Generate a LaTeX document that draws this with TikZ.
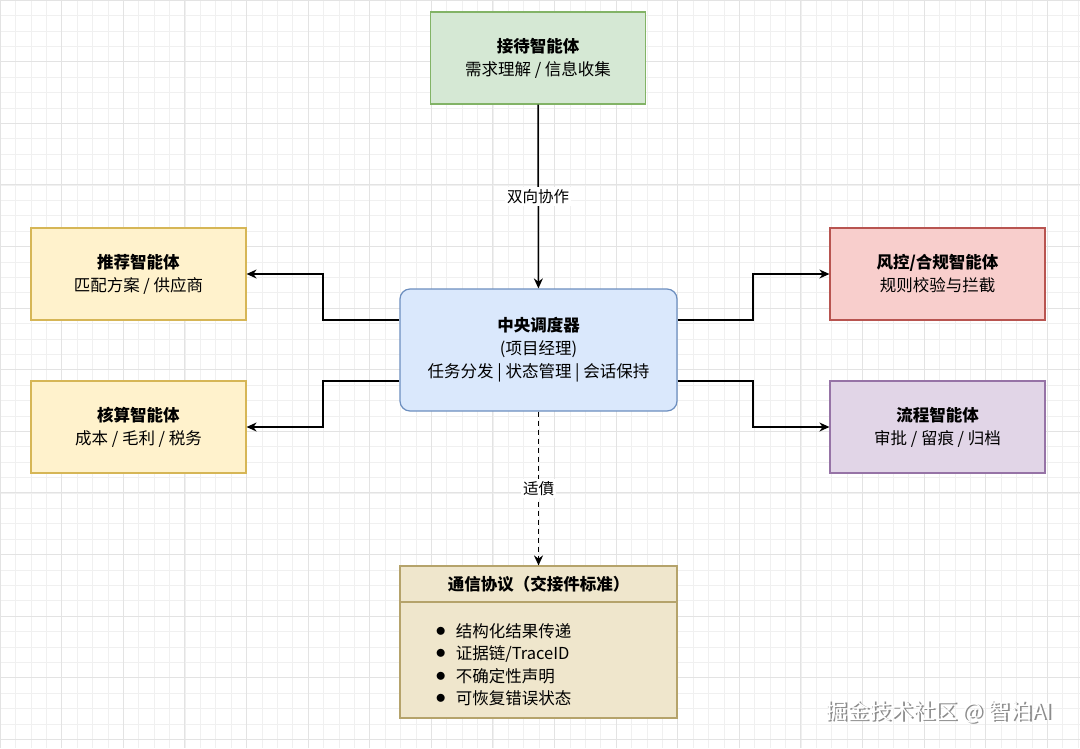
\documentclass[tikz,border=0pt]{standalone}
\usepackage{fontspec}
\setmainfont{Liberation Sans}
\newfontfamily\cjk{Noto Sans CJK SC}
\usetikzlibrary{arrows.meta,positioning}
\definecolor{gfill}{HTML}{D5E8D4}\definecolor{gline}{HTML}{82B366}
\definecolor{yfill}{HTML}{FFF2CC}\definecolor{yline}{HTML}{D6B656}
\definecolor{bfill}{HTML}{DAE8FC}\definecolor{bline}{HTML}{6C8EBF}
\definecolor{rfill}{HTML}{F8CECC}\definecolor{rline}{HTML}{B85450}
\definecolor{pfill}{HTML}{E1D5E7}\definecolor{pline}{HTML}{9673A6}
\definecolor{tfill}{HTML}{EFE6CC}\definecolor{tline}{HTML}{B5A36B}
\newcommand{\itembullet}{\raisebox{1pt}{\fontsize{22}{22}\selectfont$\bullet$}\hspace{10pt}}
\tikzset{
  agent/.style={draw, line width=1.2pt, minimum width=215pt, minimum height=92pt, align=center, font=\cjk\fontsize{16.5}{23}\selectfont},
  link/.style={-{Stealth[length=10pt,width=9pt]}, line width=1.5pt},
  lbl/.style={fill=white, inner sep=2pt, font=\cjk\fontsize{15.5}{18}\selectfont}
}
\begin{document}
\begin{tikzpicture}[x=1pt, y=-1pt]
  % Background
  \fill[white] (0,0) rectangle (1080,748);
  \useasboundingbox (0,0) rectangle (1080,748);
  \draw[gray!12, line width=0.6pt, step=15.4pt] (0,0) grid (1080,748);
  \draw[gray!22, line width=0.8pt, step=61.6pt] (0,0) grid (1080,748);

  % Agents
  \node[agent, fill=gfill, draw=gline] (recv) at (538,58) {\textbf{接待智能体}\\需求理解 / 信息收集};
  \node[agent, fill=yfill, draw=yline] (rec) at (138.5,274) {\textbf{推荐智能体}\\匹配方案 / 供应商};
  \node[agent, fill=yfill, draw=yline] (acc) at (138.5,427) {\textbf{核算智能体}\\成本 / 毛利 / 税务};
  \node[agent, fill=rfill, draw=rline] (risk) at (937.5,274) {\textbf{风控/合规智能体}\\规则校验与拦截};
  \node[agent, fill=pfill, draw=pline] (flow) at (937.5,427) {\textbf{流程智能体}\\审批 / 留痕 / 归档};
  \node[agent, fill=bfill, draw=bline, rounded corners=10pt, minimum width=277pt, minimum height=122pt] (hub) at (538.5,350) {\textbf{中央调度器}\\(项目经理)\\任务分发 | 状态管理 | 会话保持};

  % Protocol
  \node[draw=tline, fill=tfill, line width=1.2pt, minimum width=277pt, minimum height=152pt] (proto) at (538.5,642) {};
  \draw[tline, line width=1.2pt] (400,602) -- (677,602);
  \node[font=\cjk\fontsize{16.5}{20}\selectfont\bfseries] (ptitle) at (538.5,584) {通信协议（交接件标准）};
  \node[font=\cjk\fontsize{16.5}{22.5}\selectfont, align=left, anchor=north west] (plist) at (432,620)
    {\itembullet 结构化结果传递\\\itembullet 证据链/TraceID\\\itembullet 不确定性声明\\\itembullet 可恢复错误状态};

  % Connectors
  \draw[link] (recv) -- node[lbl] {双向协作} (hub);
  \draw[link] (hub.west |- 0,320) -| (323,274) -- (rec.east);
  \draw[link] (hub.west |- 0,381) -| (323,427) -- (acc.east);
  \draw[link] (hub.east |- 0,320) -| (753,274) -- (risk.west);
  \draw[link] (hub.east |- 0,381) -| (753,427) -- (flow.west);
  \draw[link, dash pattern=on 5pt off 4pt] (hub) -- node[lbl] {适僨} (proto);

  % Watermark
  \node[font=\cjk\fontsize{22}{26}\selectfont, text=black!45] at (940.8,713.2) {掘金技术社区 @ 智泊AI};
  \node[font=\cjk\fontsize{22}{26}\selectfont, text=white] (mark) at (939,712) {掘金技术社区 @ 智泊AI};
\end{tikzpicture}
\end{document}
